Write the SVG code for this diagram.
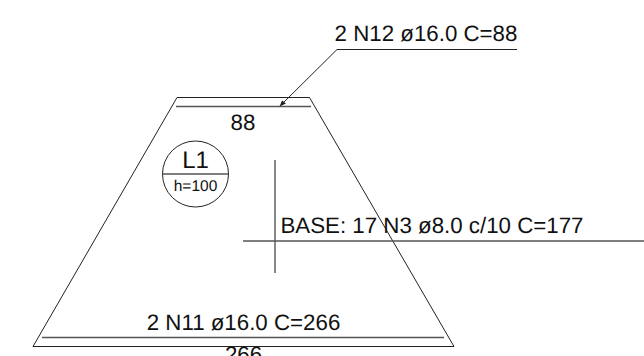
<svg xmlns="http://www.w3.org/2000/svg" width="644" height="356" viewBox="0 0 644 356">
<style>
text{font-family:"Liberation Sans",Arial,sans-serif;fill:#111;text-anchor:middle;text-rendering:geometricPrecision}
.t{font-size:22.3px}
.o{fill:none;stroke:#222;stroke-width:1}
.b{fill:none;stroke:#555;stroke-width:1.4}
</style>
<rect width="644" height="356" fill="#fff"/>
<g id="section"><path class="o" d="M177 97.500H309.500L454 346.500H33Z"/></g>
<g id="connectors">
<path class="b" d="M176 106.500H311"/>
<path class="b" d="M42 337.500H444"/>
<path class="o" d="M517 49.500H337L281 105"/>
<path d="M279.500 106.500L282 100.500L286 103.500Z" fill="#222"/>
<path class="b" d="M275 160V273"/>
<path class="b" d="M243 241H644"/>
</g>
<g id="label-n12"><text class="t" x="426" y="40.500">2 N12 ø16.0 C=88</text></g>
<g id="label-88"><text class="t" x="243" y="129.500">88</text></g>
<g id="tag-l1">
<circle class="o" cx="195.500" cy="174" r="33"/>
<path class="b" d="M162.500 174H228.500"/>
<text x="195.500" y="167.500" font-size="24px">L1</text>
<text x="195.500" y="191" font-size="15.500px">h=100</text>
</g>
<g id="label-base"><text class="t" x="432" y="232.500">BASE: 17 N3 ø8.0 c/10 C=177</text></g>
<g id="label-n11"><text class="t" x="243.500" y="329.500">2 N11 ø16.0 C=266</text></g>
<g id="label-266"><text class="t" x="243.500" y="362">266</text></g>
</svg>
